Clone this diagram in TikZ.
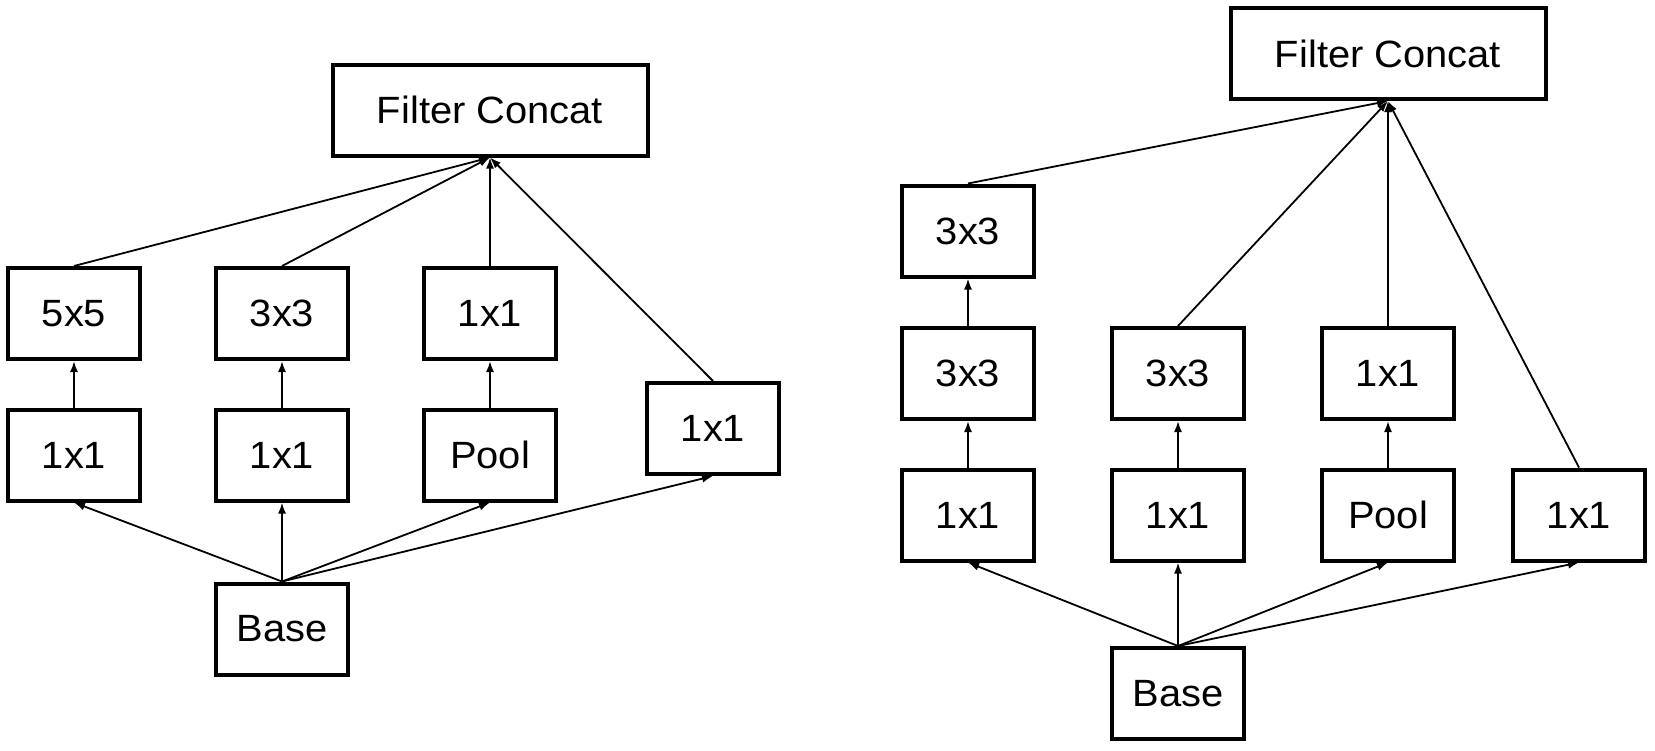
\documentclass[tikz,border=0pt]{standalone}
\usepackage{fontspec}
\setmainfont[FakeStretch=1.05]{Liberation Sans}
\usetikzlibrary{arrows.meta}
\tikzset{
  blk/.style={draw, line width=4pt, inner sep=0pt, minimum width=132pt, minimum height=91pt,
    font=\fontsize{38}{44}\selectfont},
  wide/.style={blk, minimum width=315pt},
  conn/.style={line width=1.8pt, -{Latex[length=11pt,width=8pt]}},
  line/.style={line width=1.8pt}
}
\begin{document}
\begin{tikzpicture}[x=1pt,y=-1pt]
\useasboundingbox (0,0) rectangle (1655,750);
% ---------- left diagram ----------
\node[wide] (lfc) at (490,110) {Filter Concat};
\node[blk] (l55) at (74,313.5) {5x5};
\node[blk] (l33) at (282,313.5) {3x3};
\node[blk] (l11t) at (490,313.5) {1x1};
\node[blk] (l11a) at (74,455) {1x1};
\node[blk] (l11b) at (282,455) {1x1};
\node[blk] (lpool) at (490,455) {Pool};
\node[blk] (l11r) at (713,428.5) {1x1};
\node[blk] (lbase) at (282,629) {Base};
\draw[conn] (l55.north) -- (lfc.south);
\draw[conn] (l33.north) -- (lfc.south);
\draw[conn] (l11t.north) -- (lfc.south);
\draw[conn] (l11r.north) -- (lfc.south);
\draw[conn] (l11a.north) -- (l55.south);
\draw[conn] (l11b.north) -- (l33.south);
\draw[conn] (lpool.north) -- (l11t.south);
\draw[conn] (lbase.north) -- (l11a.south);
\draw[conn] (lbase.north) -- (l11b.south);
\draw[conn] (lbase.north) -- (lpool.south);
\draw[conn] (lbase.north) -- (l11r.south);
% ---------- right diagram ----------
\node[wide] (rfc) at (1388,53.5) {Filter Concat};
\node[blk] (r33t) at (968,231) {3x3};
\node[blk] (r33a) at (968,373.5) {3x3};
\node[blk] (r33b) at (1178,373.5) {3x3};
\node[blk] (r11t) at (1388,373.5) {1x1};
\node[blk] (r11a) at (968,515) {1x1};
\node[blk] (r11b) at (1178,515) {1x1};
\node[blk] (rpool) at (1388,515) {Pool};
\node[blk] (r11r) at (1579,515) {1x1};
\node[blk] (rbase) at (1178,693.5) {Base};
\draw[conn] (r33t.north) -- (rfc.south);
\draw[conn] (r33b.north) -- (rfc.south);
\draw[conn] (r11t.north) -- (rfc.south);
\draw[conn] (r11r.north) -- (rfc.south);
\draw[conn] (r33a.north) -- (r33t.south);
\draw[conn] (r11a.north) -- (r33a.south);
\draw[conn] (r11b.north) -- (r33b.south);
\draw[conn] (rpool.north) -- (r11t.south);
\draw[conn] (rbase.north) -- (r11a.south);
\draw[conn] (rbase.north) -- (r11b.south);
\draw[conn] (rbase.north) -- (rpool.south);
\draw[conn] (rbase.north) -- (r11r.south);
\end{tikzpicture}
\end{document}
